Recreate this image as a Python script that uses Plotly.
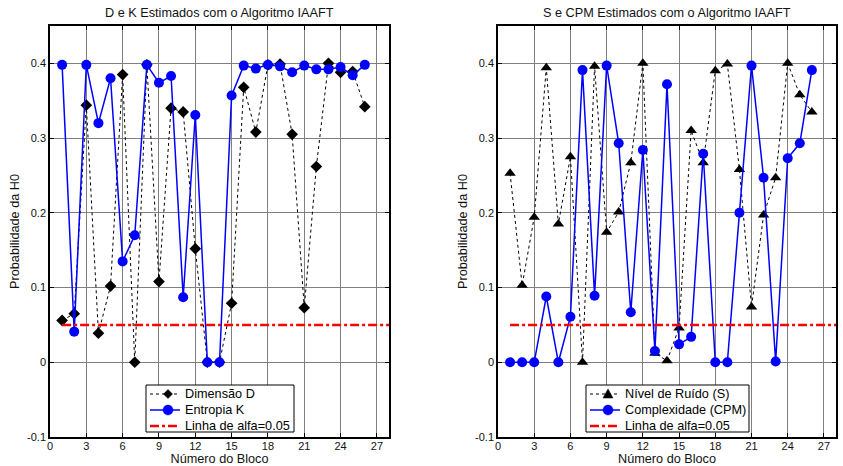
import plotly.graph_objects as go

W, H = 843, 466

blocos = list(range(1, 27))
dim_D = [0.056, 0.065, 0.344, 0.039, 0.102, 0.385, 0.0, 0.398, 0.108, 0.340,
         0.335, 0.152, 0.0, 0.0, 0.079, 0.368, 0.308, 0.398, 0.399, 0.305,
         0.073, 0.262, 0.400, 0.388, 0.389, 0.342]
ent_K = [0.398, 0.041, 0.398, 0.320, 0.380, 0.135, 0.170, 0.398, 0.374, 0.383,
         0.087, 0.331, 0.0, 0.0, 0.357, 0.397, 0.393, 0.398, 0.396, 0.388,
         0.397, 0.392, 0.392, 0.395, 0.384, 0.398]
ruido_S = [0.253, 0.103, 0.194, 0.394, 0.185, 0.275, 0.0, 0.396, 0.174, 0.201,
           0.267, 0.400, 0.012, 0.002, 0.046, 0.310, 0.267, 0.390, 0.399, 0.258,
           0.074, 0.197, 0.247, 0.400, 0.358, 0.335]
cpm = [0.0, 0.0, 0.0, 0.088, 0.0, 0.061, 0.391, 0.089, 0.397, 0.293,
       0.067, 0.284, 0.015, 0.372, 0.024, 0.034, 0.279, 0.0, 0.0, 0.200,
       0.397, 0.247, 0.001, 0.273, 0.293, 0.391]
alfa = 0.05
alfa_x = [1, 28]

x_ticks = [0, 3, 6, 9, 12, 15, 18, 21, 24, 27]
y_ticks = [-0.1, 0, 0.1, 0.2, 0.3, 0.4]
y_tick_labels = ["-0.1", "0", "0.1", "0.2", "0.3", "0.4"]

legend_left = ["Dimensão D", "Entropia K", "Linha de alfa=0.05"]
legend_right = ["Nível de Ruído (S)", "Complexidade (CPM)", "Linha de alfa=0.05"]

FONT = "Liberation Sans, Arial, sans-serif"
BLUE = "#0000ff"
RED = "#ff0000"
TXT = 12.7

fig = go.Figure()

# Left panel
fig.add_trace(go.Scatter(x=blocos, y=dim_D, mode="lines+markers", name=legend_left[0],
                         line=dict(color="black", width=1, dash="dot"),
                         marker=dict(symbol="diamond", size=9, color="black"),
                         xaxis="x", yaxis="y", showlegend=False))
fig.add_trace(go.Scatter(x=blocos, y=ent_K, mode="lines+markers", name=legend_left[1],
                         line=dict(color=BLUE, width=1.5),
                         marker=dict(symbol="circle", size=10, color=BLUE),
                         xaxis="x", yaxis="y", showlegend=False))
fig.add_trace(go.Scatter(x=alfa_x, y=[alfa, alfa], mode="lines", name=legend_left[2],
                         line=dict(color=RED, width=2.5, dash="dashdot"),
                         xaxis="x", yaxis="y", showlegend=False))

# Right panel
fig.add_trace(go.Scatter(x=blocos, y=ruido_S, mode="lines+markers", name=legend_right[0],
                         line=dict(color="black", width=1, dash="dot"),
                         marker=dict(symbol="triangle-up", size=10, color="black"),
                         xaxis="x2", yaxis="y2", showlegend=False))
fig.add_trace(go.Scatter(x=blocos, y=cpm, mode="lines+markers", name=legend_right[1],
                         line=dict(color=BLUE, width=1.5),
                         marker=dict(symbol="circle", size=10, color=BLUE),
                         xaxis="x2", yaxis="y2", showlegend=False))
fig.add_trace(go.Scatter(x=alfa_x, y=[alfa, alfa], mode="lines", name=legend_right[2],
                         line=dict(color=RED, width=2.5, dash="dashdot"),
                         xaxis="x2", yaxis="y2", showlegend=False))

ydom = [1 - 437 / H, 1 - 26 / H]
xdom1 = [50 / W, 389 / W]
xdom2 = [498 / W, 836 / W]

axis_common = dict(showline=True, linecolor="black", linewidth=1.5, mirror="allticks",
                   ticks="inside", ticklen=4, tickcolor="black", automargin=False,
                   showgrid=True, gridcolor="#808080", gridwidth=1, zeroline=False,
                   tickfont=dict(family=FONT, size=11, color="#111"))

xcommon = dict(axis_common, range=[0, 28], tickvals=x_ticks,
               ticktext=[str(t) for t in x_ticks], ticklabelstandoff=-2,
               title=dict(text="Número do Bloco", font=dict(family=FONT, size=TXT, color="#111"), standoff=6))
ycommon = dict(axis_common, range=[-0.1, 0.45], tickvals=y_ticks, ticktext=y_tick_labels,
               title=dict(text="Probabilidade da H0", font=dict(family=FONT, size=TXT, color="#111"), standoff=5))


# ---- hand-drawn legend boxes (pixel helpers) ----
def px(x):
    return x / W


def py(y):
    return 1 - y / H


shapes = []
annotations = []


def legend_box(x0, x1, labels, symbols):
    y0, y1 = 385, 432
    shapes.append(dict(type="rect", xref="paper", yref="paper", x0=px(x0), x1=px(x1),
                       y0=py(y0), y1=py(y1), line=dict(color="black", width=1),
                       fillcolor="white", layer="above"))
    rows = [394, 410, 426]
    styles = [dict(color="black", width=1, dash="dot"),
              dict(color=BLUE, width=1.5),
              dict(color=RED, width=2.5, dash="dashdot")]
    for i, (lab, sym) in enumerate(zip(labels, symbols)):
        ry = rows[i]
        shapes.append(dict(type="line", xref="paper", yref="paper", x0=px(x0 + 4), x1=px(x0 + 34),
                           y0=py(ry), y1=py(ry), line=styles[i], layer="above"))
        cx = x0 + 22
        if sym == "diamond":
            r = 4.5
            path = (f"M {px(cx)} {py(ry - r)} L {px(cx + r)} {py(ry)} L {px(cx)} {py(ry + r)} "
                    f"L {px(cx - r)} {py(ry)} Z")
            shapes.append(dict(type="path", xref="paper", yref="paper", path=path,
                               fillcolor="black", line=dict(color="black", width=0.5), layer="above"))
        elif sym == "triangle":
            r = 5
            path = (f"M {px(cx)} {py(ry - r)} L {px(cx + r)} {py(ry + r * 0.8)} "
                    f"L {px(cx - r)} {py(ry + r * 0.8)} Z")
            shapes.append(dict(type="path", xref="paper", yref="paper", path=path,
                               fillcolor="black", line=dict(color="black", width=0.5), layer="above"))
        elif sym == "circle":
            r = 5
            shapes.append(dict(type="circle", xref="paper", yref="paper",
                               x0=px(cx - r), x1=px(cx + r), y0=py(ry + r), y1=py(ry - r),
                               fillcolor=BLUE, line=dict(color=BLUE, width=0.5), layer="above"))
        annotations.append(dict(text=lab, x=px(x0 + 37), y=py(ry), xref="paper", yref="paper",
                                xanchor="left", yanchor="middle", showarrow=False,
                                font=dict(family=FONT, size=TXT, color="black")))


legend_box(146, 294, legend_left, ["diamond", "circle", None])
legend_box(586, 749, legend_right, ["triangle", "circle", None])

annotations += [
    dict(text="D e K Estimados com o Algoritmo IAAFT", x=(xdom1[0] + xdom1[1]) / 2,
         y=py(13), xref="paper", yref="paper", showarrow=False, xanchor="center",
         font=dict(family=FONT, size=TXT, color="#111"), yanchor="middle"),
    dict(text="S e CPM Estimados com o Algoritmo IAAFT", x=(xdom2[0] + xdom2[1]) / 2,
         y=py(13), xref="paper", yref="paper", showarrow=False, xanchor="center",
         font=dict(family=FONT, size=TXT, color="#111"), yanchor="middle"),
]

fig.update_layout(
    width=W, height=H,
    margin=dict(l=0, r=0, t=0, b=0),
    paper_bgcolor="white", plot_bgcolor="white",
    font=dict(family=FONT, size=11, color="#111"),
    showlegend=False,
    xaxis=dict(xcommon, domain=xdom1, anchor="y"),
    yaxis=dict(ycommon, domain=ydom, anchor="x"),
    xaxis2=dict(xcommon, domain=xdom2, anchor="y2"),
    yaxis2=dict(ycommon, domain=ydom, anchor="x2"),
    shapes=shapes,
    annotations=annotations,
)

fig.write_html("out.html")
